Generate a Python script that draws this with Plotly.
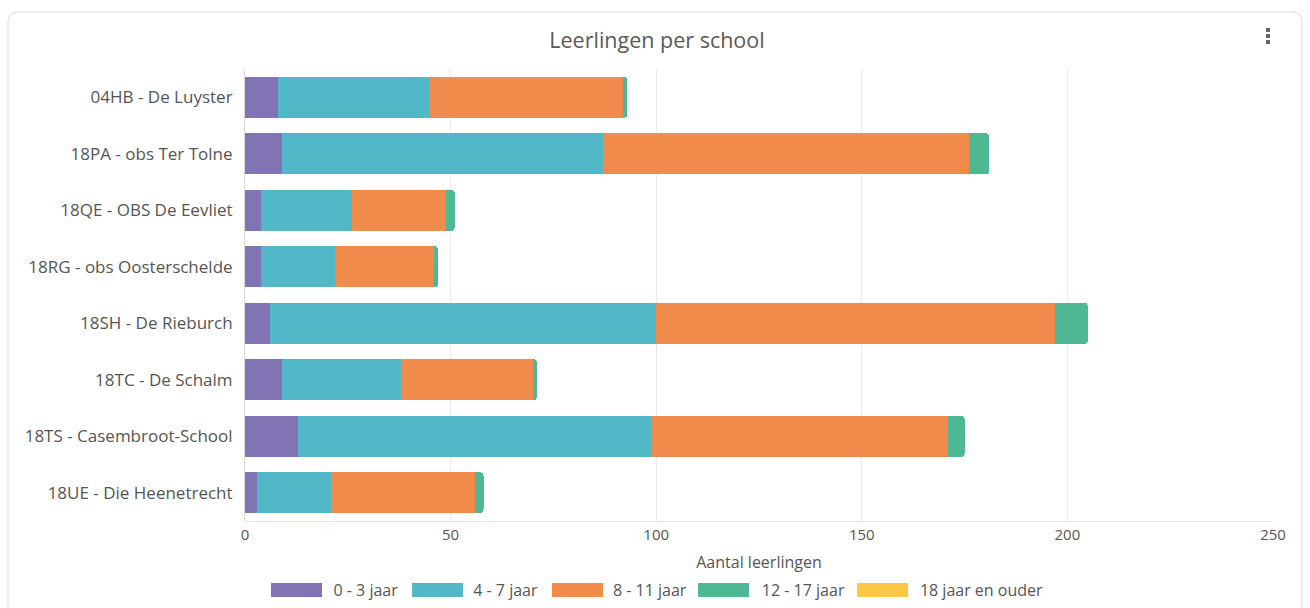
import plotly.graph_objects as go

schools = [
    "04HB - De Luyster",
    "18PA - obs Ter Tolne",
    "18QE - OBS De Eevliet",
    "18RG - obs Oosterschelde",
    "18SH - De Rieburch",
    "18TC - De Schalm",
    "18TS - Casembroot-School",
    "18UE - Die Heenetrecht",
]
age_0_3 = [8, 9, 4, 4, 6, 9, 13, 3]
age_4_7 = [37, 78, 22, 18, 94, 29, 86, 18]
age_8_11 = [47, 89, 23, 24, 97, 32, 72, 35]
age_12_17 = [1, 5, 2, 1, 8, 1, 4, 2]
age_18_plus = [0, 0, 0, 0, 0, 0, 0, 0]

series = [
    ("0 - 3 jaar", age_0_3, "#8273B5"),
    ("4 - 7 jaar", age_4_7, "#52B8C8"),
    ("8 - 11 jaar", age_8_11, "#F08B4C"),
    ("12 - 17 jaar", age_12_17, "#4DB892"),
    ("18 jaar en ouder", age_18_plus, "#FDC746"),
]

FONT = "Open Sans"
TXT = "#555555"
W, H = 1310, 608
L, R, T, B = 245, 37, 69, 87
PW, PH = W - L - R, H - T - B

# left pixel edges of the wide legend swatches (styling only)
SWATCH_LEFT = [271, 412, 552, 698, 857]
SWATCH_W, SWATCH_Y0, SWATCH_Y1 = 51, 583, 597


def px(x):
    return (x - L) / PW


def py(y):
    return (H - B - y) / PH


fig = go.Figure()
for name, vals, color in series:
    fig.add_trace(go.Bar(
        y=schools, x=vals, name=name, orientation="h",
        marker=dict(color=color, line=dict(width=0)),
    ))

# card outline with rounded top corners
x0, x1, y0, y1, r = 8, 1302, 12, 640, 10
path = (
    f"M {px(x0)},{py(y1)} L {px(x0)},{py(y0 + r)} "
    f"Q {px(x0)},{py(y0)} {px(x0 + r)},{py(y0)} "
    f"L {px(x1 - r)},{py(y0)} "
    f"Q {px(x1)},{py(y0)} {px(x1)},{py(y0 + r)} "
    f"L {px(x1)},{py(y1)}"
)
shapes = [dict(type="path", path=path, xref="paper", yref="paper",
               line=dict(color="#dddddd", width=1), layer="below")]
# kebab menu dots
for (d0, d1) in [(28, 32), (34, 38), (40, 44)]:
    shapes.append(dict(type="rect", xref="paper", yref="paper",
                       x0=px(1266), x1=px(1270), y0=py(d1), y1=py(d0),
                       fillcolor="#666666", line=dict(width=0)))
# wide legend swatches behind plotly's own legend symbols
for (name, vals, color), sx in zip(series, SWATCH_LEFT):
    shapes.append(dict(type="rect", xref="paper", yref="paper",
                       x0=px(sx), x1=px(sx + SWATCH_W),
                       y0=py(SWATCH_Y1), y1=py(SWATCH_Y0),
                       fillcolor=color, line=dict(width=0), layer="above"))

fig.update_layout(
    width=W, height=H,
    margin=dict(l=L, r=R, t=T, b=B, pad=0, autoexpand=False),
    paper_bgcolor="white", plot_bgcolor="white",
    barmode="stack", bargap=0.27,
    barcornerradius=4,
    font=dict(family=FONT, color=TXT, size=16),
    title=dict(text="Leerlingen per school", x=657 / W, xref="container",
               xanchor="center", y=1 - 40 / H, yanchor="middle",
               font=dict(family=FONT, size=21.5, color="#5a5a5a")),
    xaxis=dict(range=[0, 250], dtick=50, showgrid=True, gridcolor="#ebebeb",
               gridwidth=1, zeroline=False, showline=True, linecolor="#e6e6e6",
               ticks="", tickfont=dict(size=15, color=TXT),
               title=dict(text="Aantal leerlingen", standoff=15,
                          font=dict(size=16, color=TXT)),
               automargin=False, fixedrange=True),
    yaxis=dict(autorange="reversed", showgrid=False, showline=True,
               linecolor="#d9d9d9", ticks="", ticklabelstandoff=8,
               tickfont=dict(size=17, color=TXT), automargin=False,
               fixedrange=True),
    legend=dict(orientation="h", x=656 / W, xanchor="center", xref="container",
                y=1 - 590 / H, yref="container", yanchor="middle",
                traceorder="normal", bgcolor="rgba(0,0,0,0)",
                font=dict(size=16, color=TXT), itemwidth=60),
    shapes=shapes,
)

fig.write_html("out.html", config={"displayModeBar": False},
               post_script="document.body.style.margin='0px';")
